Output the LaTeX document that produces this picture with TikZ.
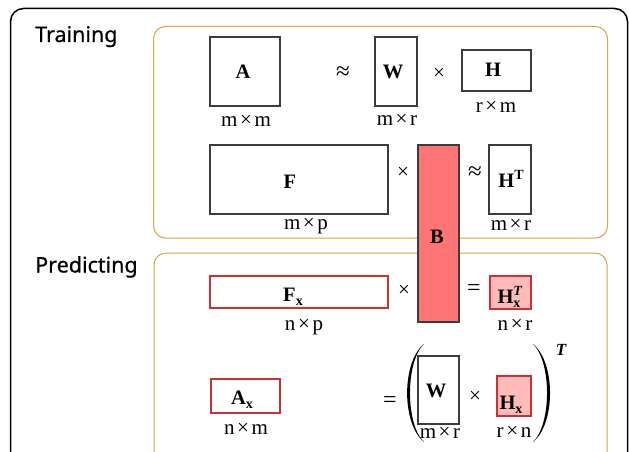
\documentclass[tikz,border=0pt]{standalone}
\usepackage{fontspec}
\setmainfont{Liberation Serif}
\newfontfamily\titlefont[FakeBold=0.6]{Noto Sans}
\definecolor{gold}{RGB}{214,168,62}
\definecolor{redline}{RGB}{208,48,52}
\definecolor{bfill}{RGB}{255,117,117}
\definecolor{pinkfill}{RGB}{255,186,186}
\definecolor{boxline}{RGB}{60,60,60}
\newcommand\lsub[1]{\raisebox{-4pt}{\fontsize{14}{14}\selectfont\bfseries #1}}
\newcommand\lsup[1]{\raisebox{7.5pt}{\fontsize{14}{14}\selectfont\bfseries #1}}
\newcommand\tms{\kern2.6pt×\kern2.6pt}
\begin{document}
\begin{tikzpicture}[x=1pt,y=-1pt,
  mat/.style={draw=boxline, line width=1.2pt, inner sep=0pt, outer sep=0pt, anchor=north west},
  redmat/.style={mat, draw=redline},
  pinkmat/.style={mat, draw=redline, fill=pinkfill},
  bmat/.style={mat, fill=bfill},
  lab/.style={anchor=base, inner sep=0pt, font=\fontsize{20.5}{20.5}\selectfont\bfseries},
  dim/.style={anchor=base, inner sep=0pt, font=\fontsize{21}{21}\selectfont},
  sym/.style={inner sep=0pt, font=\fontsize{21}{21}\selectfont},
  apx/.style={inner sep=0pt, font=\fontsize{25}{25}\selectfont},
  eqs/.style={inner sep=0pt, font=\fontsize{24}{24}\selectfont},
  title/.style={anchor=base west, inner sep=0pt, font=\titlefont\fontsize{21.5}{22}\selectfont},
  goldbox/.style={draw=gold, line width=1pt, rounded corners=12pt},
]
\useasboundingbox (0,0) rectangle (629,452);
\clip (0,0) rectangle (629,452);
\fill[white] (0,0) rectangle (629,452);
% frames
\draw[line width=1.5pt, rounded corners=13pt] (10.5,8.5) rectangle (627.5,490);
\draw[goldbox] (153.5,26.5) rectangle (607.5,238);
\draw[goldbox] (154,253) rectangle (607,490);
\node[title] (train) at (35,42) {Training};
\node[title] (pred) at (35,272.5) {Predicting};
% training row 1
\node[mat, minimum width=70pt, minimum height=69pt] (A) at (210,37) {};
\node[lab] (Al) at (243,78) {A};
\node[dim] (Ad) at (246,126) {m\tms m};
\node[apx] (ap1) at (343,73) {≈};
\node[mat, minimum width=42pt, minimum height=69pt] (W) at (375,37) {};
\node[lab] (Wl) at (393,78) {W};
\node[dim] (Wd) at (397,125) {m\tms r};
\node[sym] (x1) at (439,74) {×};
\node[mat, minimum width=69pt, minimum height=41pt] (H) at (462,50) {};
\node[lab] (Hl) at (493,77) {H};
\node[dim] (Hd) at (496,112) {r\tms m};
% training row 2
\node[mat, minimum width=178pt, minimum height=69pt] (F) at (210,145) {};
\node[lab] (Fl) at (290,188) {F};
\node[dim] (Fd) at (306,229.5) {m\tms p};
\node[sym] (x2) at (403,173) {×};
\node[apx] (ap2) at (475,173) {≈};
\node[mat, minimum width=42pt, minimum height=69pt] (HT) at (489,145) {};
\node[lab] (HTl) at (511,187) {H\lsup{T}};
\node[dim] (HTd) at (511,230) {m\tms r};
% predicting row 1
\node[redmat, minimum width=178pt, minimum height=32pt] (Fx) at (210,276) {};
\node[lab] (Fxl) at (293,301) {F\lsub{x}};
\node[dim] (Fxd) at (304,330) {n\tms p};
\node[sym] (x3) at (404,291) {×};
\node[eqs] (eq1) at (474,290) {=};
\node[pinkmat, minimum width=41pt, minimum height=33pt] (HxT) at (490,276) {};
\node[lab] (HxTl) at (509,303) {H\makebox[0pt][l]{\lsup{\itshape T}}\lsub{x}};
\node[dim] (HxTd) at (515,330) {n\tms r};
% B on top
\node[bmat, minimum width=41pt, minimum height=177pt] (B) at (418,145) {};
\node[lab] (Bl) at (437,243) {B};
% predicting row 2
\node[redmat, minimum width=69pt, minimum height=34pt] (Ax) at (211,379) {};
\node[lab] (Axl) at (242,404) {A\lsub{x}};
\node[dim] (Axd) at (246,434) {n\tms m};
\node[eqs] (eq2) at (390,402) {=};
\fill (424,344) .. controls (401.5,362) and (401.5,424) .. (424,442)
  .. controls (405.3,424) and (405.3,362) .. (424,344) -- cycle;
\node[mat, minimum width=41pt, minimum height=68pt] (W2) at (418,356) {};
\node[lab] (W2l) at (436,397) {W};
\node[dim] (W2d) at (440,438) {m\tms r};
\node[sym] (x4) at (475,397) {×};
\node[pinkmat, minimum width=34pt, minimum height=40pt] (Hx) at (497,376) {};
\node[lab] (Hxl) at (511,409) {H\lsub{x}};
\node[dim] (Hxd) at (514,437) {r\tms n};
\fill (533,344) .. controls (555.7,362) and (555.7,424) .. (533,442)
  .. controls (551.7,424) and (551.7,362) .. (533,344) -- cycle;
\node[anchor=base, inner sep=0pt, font=\fontsize{17}{17}\selectfont\bfseries\itshape] (Tsup) at (561,355) {T};
\end{tikzpicture}
\end{document}
